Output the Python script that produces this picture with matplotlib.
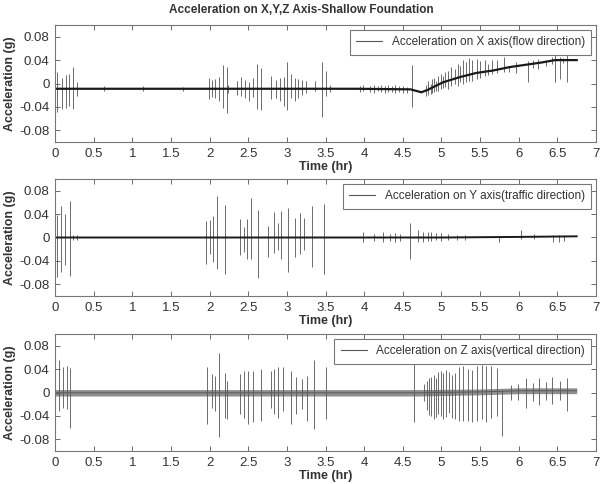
import matplotlib
matplotlib.use('Agg')
import matplotlib.pyplot as plt
from matplotlib.ticker import FixedLocator

plt.rcParams['font.family'] = ['Liberation Sans', 'DejaVu Sans']

# ---- X axis (flow direction) ----
x_base_t = [0, 3.9, 4.6, 4.74, 4.82, 5.02, 5.24, 5.45, 5.66, 5.88, 6.09, 6.30, 6.47, 6.75]
x_base_v = [-0.009, -0.009, -0.010, -0.015, -0.011, 0.002, 0.011, 0.018, 0.022, 0.028, 0.032, 0.036, 0.040, 0.040]
x_spk_t = [0.03, 0.09, 0.14, 0.18, 0.23, 0.29, 0.63, 1.14, 1.65,
           1.99, 2.03, 2.07, 2.12, 2.17, 2.23, 2.24, 2.36, 2.41, 2.46, 2.51, 2.56, 2.62, 2.67,
           2.80, 2.86, 2.91, 2.96, 3.00, 3.06, 3.10, 3.15, 3.20, 3.25, 3.36, 3.46, 3.51, 3.56,
           3.95, 3.99, 4.08, 4.13, 4.18, 4.22, 4.27, 4.31, 4.36, 4.40, 4.45, 4.50, 4.55, 4.62,
           4.80, 4.83, 4.86, 4.88, 4.91, 4.93, 4.96, 4.99, 5.02, 5.05, 5.09, 5.13, 5.17, 5.21,
           5.24, 5.28, 5.32, 5.36, 5.40, 5.46, 5.50, 5.56, 5.60, 5.66, 5.72, 5.81, 5.87, 5.96,
           6.12, 6.19, 6.25, 6.35, 6.43, 6.47, 6.53, 6.57, 6.62]
x_spk_top = [0.019, 0.010, 0.015, 0.017, 0.029, 0.003, -0.004, -0.005, -0.006,
             0.010, 0.006, 0.007, 0.011, 0.031, 0.029, -0.002, 0.004, 0.011, 0.006, 0.002, 0.009, 0.034, 0.027,
             0.013, 0.006, 0.009, 0.011, 0.036, 0.016, 0.009, 0.007, 0.006, 0.004, 0.005, 0.036, 0.022, -0.003,
             -0.004, -0.003, -0.005, -0.002, -0.004, -0.003, -0.005, -0.002, -0.004, -0.003, -0.005, -0.004, -0.006, 0.031,
             -0.002, 0.005, 0.000, 0.008, 0.010, 0.005, 0.012, 0.016, 0.012, 0.020, 0.022, 0.028, 0.025, 0.034,
             0.030, 0.040, 0.036, 0.044, 0.040, 0.042, 0.038, 0.040, 0.034, 0.040, 0.040, 0.046, 0.030, 0.036,
             0.038, 0.040, 0.042, 0.040, 0.046, 0.048, 0.046, 0.044, 0.050]
x_spk_bot = [-0.048, -0.044, -0.042, -0.038, -0.044, -0.021, -0.012, -0.012, -0.012,
             -0.027, -0.023, -0.024, -0.030, -0.042, -0.051, -0.016, -0.019, -0.022, -0.024, -0.030, -0.023, -0.043, -0.046,
             -0.027, -0.025, -0.030, -0.038, -0.046, -0.024, -0.030, -0.025, -0.019, -0.017, -0.012, -0.057, -0.022, -0.014,
             -0.014, -0.013, -0.015, -0.016, -0.013, -0.015, -0.016, -0.014, -0.015, -0.016, -0.015, -0.017, -0.016, -0.040,
             -0.022, -0.020, -0.018, -0.016, -0.015, -0.012, -0.013, -0.010, -0.008, -0.006, -0.010, -0.004, 0.000, -0.004,
             0.002, 0.000, 0.003, 0.005, 0.005, 0.008, 0.010, 0.012, 0.014, 0.016, 0.018, 0.020, 0.020, 0.018,
             0.002, 0.026, 0.024, 0.030, 0.034, 0.002, 0.008, 0.035, 0.002]

# ---- Y axis (traffic direction) ----
y_base_t = [0, 4.0, 5.0, 6.0, 6.75]
y_base_v = [0.0, 0.0, 0.0, 0.001, 0.002]
y_spk_t = [0.02, 0.08, 0.13, 0.19, 0.23, 0.28,
           1.96, 2.00, 2.05, 2.09, 2.20, 2.39, 2.44, 2.49, 2.53, 2.63,
           2.76, 2.83, 2.88, 2.93, 3.02, 3.11, 3.17, 3.22, 3.32, 3.48,
           3.98, 4.13, 4.25, 4.33, 4.40, 4.47, 4.59, 4.70, 4.76, 4.82, 4.87, 4.93, 5.00,
           5.08, 5.20, 5.30, 5.75, 6.03, 6.20, 6.45, 6.52, 6.58]
y_spk_top = [0.038, 0.053, 0.041, 0.062, 0.005, 0.004,
             0.028, 0.030, 0.037, 0.071, 0.055, 0.031, 0.018, 0.031, 0.068, 0.047,
             0.019, 0.044, 0.024, 0.045, 0.051, 0.033, 0.042, 0.033, 0.053, 0.057,
             0.010, 0.006, 0.010, 0.006, 0.008, 0.006, 0.025, 0.012, 0.010, 0.009, 0.010, 0.008, 0.007,
             0.006, 0.005, 0.004, 0.003, 0.012, 0.006, 0.004, 0.004, 0.005]
y_spk_bot = [-0.067, -0.059, -0.047, -0.065, -0.005, -0.004,
             -0.045, -0.029, -0.042, -0.053, -0.062, -0.030, -0.025, -0.037, -0.036, -0.069,
             -0.033, -0.027, -0.022, -0.036, -0.059, -0.033, -0.029, -0.022, -0.050, -0.063,
             -0.007, -0.006, -0.008, -0.006, -0.007, -0.006, -0.036, -0.008, -0.007, -0.006, -0.006, -0.005, -0.006,
             -0.005, -0.005, -0.004, -0.008, -0.002, -0.003, -0.008, -0.007, -0.006]

# ---- Z axis (vertical direction) ----
z_band_t = [0, 4.7, 5.5, 6.0, 6.75]
z_band_lo = [-0.006, -0.006, -0.004, -0.002, -0.002]
z_band_hi = [0.005, 0.005, 0.006, 0.008, 0.008]
z_spk_t = [0.05, 0.10, 0.15, 0.20,
           1.97, 2.03, 2.07, 2.12, 2.20, 2.22, 2.40, 2.45, 2.50, 2.56, 2.66,
           2.79, 2.84, 2.89, 2.95, 3.05, 3.12, 3.19, 3.26, 3.35, 3.50, 4.64,
           4.78, 4.81, 4.84, 4.87, 4.90, 4.93, 4.96, 4.99, 5.02, 5.06, 5.10, 5.14, 5.18,
           5.23, 5.28, 5.34, 5.40, 5.46, 5.52, 5.58, 5.64, 5.72, 5.79,
           5.90, 5.99, 6.10, 6.18, 6.26, 6.35, 6.43, 6.54, 6.62]
z_spk_top = [0.055, 0.044, 0.045, 0.042,
             0.043, 0.031, 0.029, 0.067, 0.034, 0.020, 0.031, 0.037, 0.037, 0.036, 0.040,
             0.037, 0.040, 0.043, 0.043, 0.037, 0.026, 0.023, 0.029, 0.055, 0.044, 0.057,
             0.015, 0.020, 0.025, 0.027, 0.030, 0.025, 0.035, 0.037, 0.034, 0.038, 0.035, 0.030, 0.033,
             0.044, 0.045, 0.040, 0.038, 0.046, 0.047, 0.046, 0.046, 0.042, 0.005,
             0.013, 0.015, 0.024, 0.016, 0.024, 0.018, 0.026, 0.020, 0.025]
z_spk_bot = [-0.031, -0.027, -0.029, -0.060,
             -0.054, -0.026, -0.031, -0.076, -0.043, -0.045, -0.037, -0.043, -0.054, -0.050, -0.049,
             -0.026, -0.037, -0.044, -0.031, -0.054, -0.037, -0.029, -0.049, -0.063, -0.046, -0.051,
             -0.015, -0.030, -0.038, -0.040, -0.045, -0.042, -0.037, -0.040, -0.045, -0.042, -0.035, -0.043, -0.045,
             -0.048, -0.048, -0.049, -0.050, -0.048, -0.045, -0.050, -0.044, -0.040, -0.075,
             -0.012, -0.012, -0.026, -0.014, -0.022, -0.012, -0.020, -0.012, -0.031]

labels = ['Acceleration on X axis(flow direction)',
          'Acceleration on Y axis(traffic direction)',
          'Acceleration on Z axis(vertical direction)']

fig = plt.figure(figsize=(6.03, 4.84), dpi=100)
left, width = 55 / 603, 541 / 603
tops = [25, 179, 334]
axes = [fig.add_axes([left, 1 - (t + 117) / 484, width, 117 / 484]) for t in tops]

spk_col = '#555555'
axes[0].vlines(x_spk_t, x_spk_bot, x_spk_top, color=spk_col, lw=0.6)
axes[0].plot(x_base_t, x_base_v, color='#1a1a1a', lw=1.6)
axes[1].vlines(y_spk_t, y_spk_bot, y_spk_top, color=spk_col, lw=0.6)
axes[1].plot(y_base_t, y_base_v, color='#1a1a1a', lw=1.4)
axes[2].fill_between(z_band_t, z_band_lo, z_band_hi, color='#8f8f8f', lw=0)
axes[2].vlines(z_spk_t, z_spk_bot, z_spk_top, color=spk_col, lw=0.6)
axes[2].plot(z_band_t, [(a + b) / 2 for a, b in zip(z_band_lo, z_band_hi)], color='#5a5a5a', lw=0.7)

for ax, lab in zip(axes, labels):
    ax.set_xlim(0, 7)
    ax.set_ylim(-0.1, 0.1)
    ax.xaxis.set_major_locator(FixedLocator([i * 0.5 for i in range(15)]))
    ax.yaxis.set_major_locator(FixedLocator([-0.08, -0.04, 0, 0.04, 0.08]))
    ax.set_xticklabels(['0', '0.5', '1', '1.5', '2', '2.5', '3', '3.5', '4', '4.5',
                        '5', '5.5', '6', '6.5', '7'])
    ax.set_yticklabels(['-0.08', '-0.04', '0', '0.04', '0.08'])
    ax.tick_params(direction='in', top=True, right=True, length=3.5, width=0.6,
                   color='#555555', labelsize=9.5, labelcolor='#333333', pad=4)
    for s in ax.spines.values():
        s.set_color('#777777')
        s.set_linewidth(0.8)
    ax.set_xlabel('Time (hr)', fontsize=9, fontweight='bold', color='#333333', labelpad=1)
    ax.set_ylabel('Acceleration (g)', fontsize=9, fontweight='bold', color='#333333', labelpad=2)
    ax.plot([], [], color='#555555', lw=0.8, label=lab)
    leg = ax.legend(loc='upper right', fontsize=8.5, fancybox=False, framealpha=1,
                    edgecolor='#777777', handlelength=2.2, borderpad=0.55,
                    borderaxespad=0.4, labelcolor='#333333')
    leg.get_frame().set_linewidth(0.8)

fig.text(0.5, 1 - 10 / 484, 'Acceleration on X,Y,Z Axis-Shallow Foundation',
         ha='center', va='center', fontsize=8.5, fontweight='bold', color='#333333')

fig.savefig('out.png', dpi=100)
